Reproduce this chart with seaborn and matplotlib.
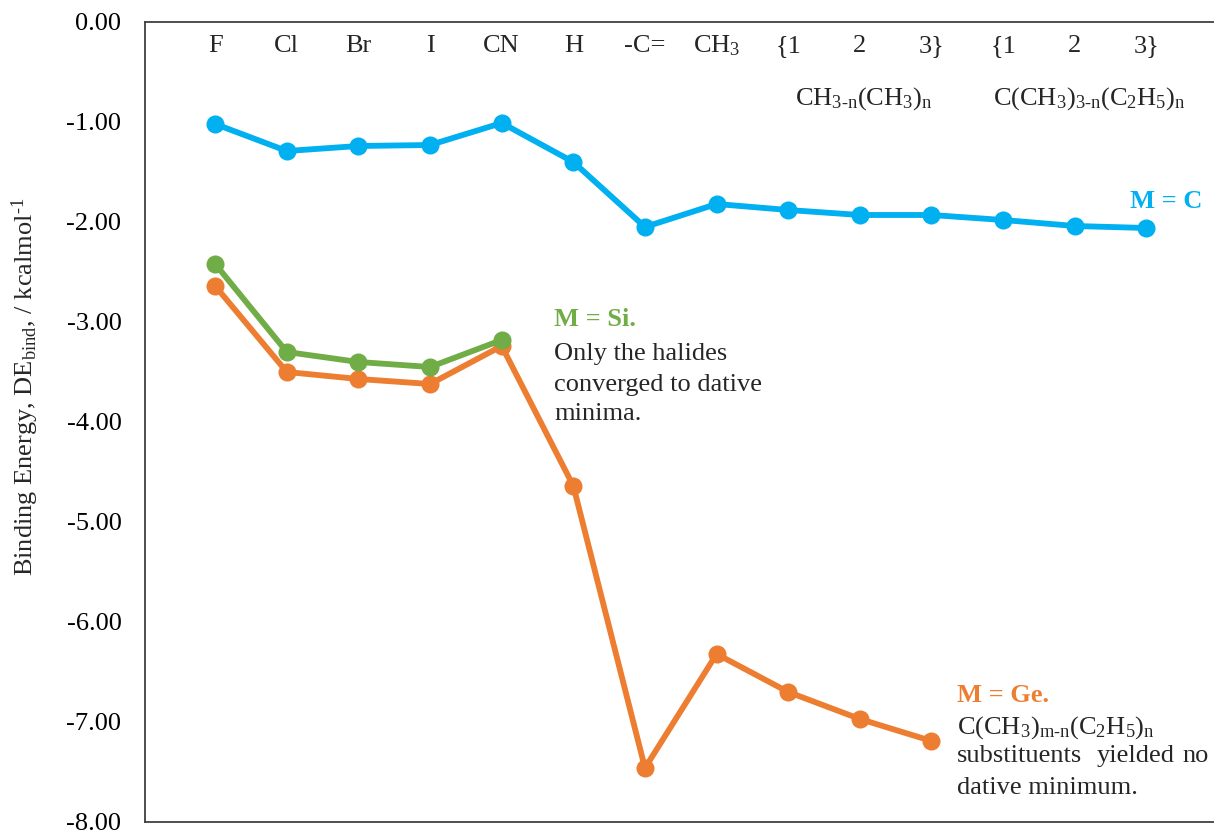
import numpy as np
import pandas as pd
import matplotlib
matplotlib.use("Agg")
import matplotlib.pyplot as plt
import seaborn as sns

# Substituent categories along the horizontal axis
categories = ["F", "Cl", "Br", "I", "CN", "H", "-C=", r"CH$_3$",
              "{1", "2", "3}", "{1", "2", "3}"]

# Binding energies (kcal/mol) for each central atom M
energy_C = [-1.02, -1.29, -1.24, -1.23, -1.01, -1.40, -2.05, -1.82,
            -1.88, -1.93, -1.93, -1.98, -2.04, -2.06]
energy_Ge = [-2.64, -3.50, -3.57, -3.62, -3.24, -4.64, -7.46, -6.32,
             -6.70, -6.97, -7.19]
energy_Si = [-2.42, -3.30, -3.40, -3.45, -3.18]

metals = ["C", "Ge", "Si"]
colors = {"C": "#00B0F0", "Ge": "#ED7D31", "Si": "#70AD47"}

y_ticks = [0, -1, -2, -3, -4, -5, -6, -7, -8]

frames = []
for name, vals in zip(metals, [energy_C, energy_Ge, energy_Si]):
    frames.append(pd.DataFrame({"pos": np.arange(len(vals)),
                                "energy": vals,
                                "metal": name}))
df = pd.concat(frames, ignore_index=True)

sns.set_theme(style="white")
plt.rcParams["font.family"] = ["Liberation Serif", "DejaVu Serif"]
plt.rcParams["mathtext.fontset"] = "custom"
plt.rcParams["mathtext.rm"] = "Liberation Serif"
plt.rcParams["mathtext.it"] = "Liberation Serif:italic"
plt.rcParams["mathtext.bf"] = "Liberation Serif:bold"

fs = 19
fig = plt.figure(figsize=(12.14, 8.33), dpi=100)
ax = fig.add_axes([145 / 1214, 11 / 833, 1068 / 1214, 800 / 833])

sns.lineplot(data=df, x="pos", y="energy", hue="metal", hue_order=metals,
             palette=colors, marker="o", markersize=13, markeredgewidth=0,
             linewidth=4.2, sort=False, legend=False, ax=ax)

ax.set_xlim(-0.98, 13.93)
ax.set_ylim(-8, 0)
ax.set_xticks([])
ax.set_yticks(y_ticks)
ax.set_yticklabels([f"{v:.2f}".replace("\u2212", "-") for v in y_ticks],
                   fontsize=fs)
ax.tick_params(axis="y", direction="inout", length=16, width=1.2,
               color="#404040", pad=9, labelcolor="black")
ax.set_xlabel("")
ax.set_ylabel("")

for side in ["left", "top", "bottom"]:
    ax.spines[side].set_color("#404040")
    ax.spines[side].set_linewidth(1.3)
ax.spines["right"].set_visible(False)

# Category labels along the top of the plot
for i, lab in enumerate(categories):
    ax.text(i, -0.24, lab, ha="center", va="center", fontsize=fs)

ax.text(9.05, -0.77, r"CH$_{\text{3-n}}$(CH$_3$)$_{\text{n}}$",
        ha="center", va="center", fontsize=fs)
ax.text(12.2, -0.77,
        r"C(CH$_3$)$_{\text{3-n}}$(C$_2$H$_5$)$_{\text{n}}$",
        ha="center", va="center", fontsize=fs)

fig.text(25 / 1214, 1 - 387 / 833,
         r"Binding Energy, DE$_{\text{bind}}$, / kcalmol$^{\text{-1}}$",
         rotation=90, ha="center", va="center", fontsize=fs)

# Series annotations
ax.text(12.77, -1.80, "M = C", color=colors["C"], fontweight="bold",
        fontsize=fs, ha="left", va="center")

ax.text(4.73, -2.97, "M = Si.", color=colors["Si"], fontweight="bold",
        fontsize=fs, ha="left", va="center")
for yy, line in zip([-3.32, -3.63, -3.92],
                    ["Only the halides", "converged to dative", "minima."]):
    ax.text(4.73, yy, line, fontsize=fs, ha="left", va="center")

ax.text(10.36, -6.73, "M = Ge.", color=colors["Ge"], fontweight="bold",
        fontsize=fs, ha="left", va="center")
ax.text(10.36, -7.06,
        r"C(CH$_3$)$_{\text{m-n}}$(C$_2$H$_5$)$_{\text{n}}$",
        fontsize=fs, ha="left", va="center")
for xx, word in zip([10.36, 12.31, 13.51], ["substituents", "yielded", "no"]):
    ax.text(xx, -7.34, word, fontsize=fs, ha="left", va="center")
ax.text(10.36, -7.66, "dative minimum.",
        fontsize=fs, ha="left", va="center")

fig.savefig("out.png", dpi=100)
